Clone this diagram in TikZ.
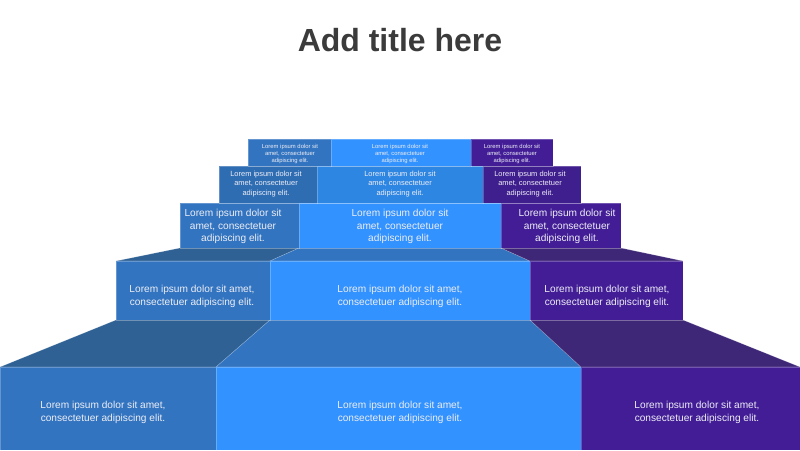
\documentclass[tikz,border=0pt]{standalone}
\usepackage{fontspec}
\setmainfont{Liberation Sans}
\usepackage{xcolor}
\definecolor{leftfront}{HTML}{3274C0}
\definecolor{midfront}{HTML}{3292FF}
\definecolor{rightfront}{HTML}{421D96}
\definecolor{lefttop}{HTML}{2F6194}
\definecolor{righttop}{HTML}{3E2777}
\definecolor{leftfour}{HTML}{2F6DB3}
\definecolor{midfour}{HTML}{2E86E3}
\definecolor{rightfour}{HTML}{3F1E8E}
\definecolor{titlegray}{HTML}{3B3B3B}
\definecolor{lighttext}{HTML}{EEEEF6}

\begin{document}
\begin{tikzpicture}[x=0.75pt, y=-0.75pt,
  face/.style={draw=white, draw opacity=0.25, line width=0.4pt},
  lbl/.style={text=lighttext, align=center, inner sep=0pt, font=\fontsize{7.6}{9.2}\selectfont},
  lblsmall/.style={lbl, font=\fontsize{5.6}{7}\selectfont},
  lbltiny/.style={lbl, font=\fontsize{4.4}{5.5}\selectfont}]
  \useasboundingbox (0,0) rectangle (800,450);
  \node[font=\fontsize{24}{28}\selectfont\bfseries, text=titlegray, anchor=base] (title) at (400,51.7) {Add title here};
  % bottom step
  \fill[lefttop, face] (0,367) -- (216,367) -- (270,320) -- (116,320) -- cycle;
  \fill[leftfront, face] (216,367) -- (581,367) -- (530,320) -- (270,320) -- cycle;
  \fill[righttop, face] (581,367) -- (800,367) -- (683,320) -- (530,320) -- cycle;
  \fill[leftfront, face] (0,367) rectangle (216,450);
  \fill[midfront, face] (216,367) rectangle (581,450);
  \fill[rightfront, face] (581,367) rectangle (800,450);
  % second step
  \fill[lefttop, face] (116,261) -- (270,261) -- (299,248) -- (180,248) -- cycle;
  \fill[leftfront, face] (270,261) -- (530,261) -- (501,248) -- (299,248) -- cycle;
  \fill[righttop, face] (530,261) -- (683,261) -- (621,248) -- (501,248) -- cycle;
  \fill[leftfront, face] (116,261) rectangle (270,320);
  \fill[midfront, face] (270,261) rectangle (530,320);
  \fill[rightfront, face] (530,261) rectangle (683,320);
  % upper steps
  \fill[leftfront, face] (180,203) rectangle (299,248);
  \fill[midfront, face] (299,203) rectangle (501,248);
  \fill[rightfront, face] (501,203) rectangle (621,248);
  \fill[leftfour, face] (219,166) rectangle (317,203);
  \fill[midfour, face] (317,166) rectangle (483,203);
  \fill[rightfour, face] (483,166) rectangle (581,203);
  \fill[leftfront, face] (248,139) rectangle (331,166);
  \fill[midfront, face] (331,139) rectangle (471,166);
  \fill[rightfront, face] (471,139) rectangle (553,166);
  % texts
  \node[lbl] (oneL) at (103,412.5) {Lorem ipsum dolor sit amet,\\consectetuer adipiscing elit.};
  \node[lbl] (oneM) at (400,412.5) {Lorem ipsum dolor sit amet,\\consectetuer adipiscing elit.};
  \node[lbl] (oneR) at (697,412.5) {Lorem ipsum dolor sit amet,\\consectetuer adipiscing elit.};
  \node[lbl] (twoL) at (192,296.5) {Lorem ipsum dolor sit amet,\\consectetuer adipiscing elit.};
  \node[lbl] (twoM) at (400,296.5) {Lorem ipsum dolor sit amet,\\consectetuer adipiscing elit.};
  \node[lbl] (twoR) at (607,296.5) {Lorem ipsum dolor sit amet,\\consectetuer adipiscing elit.};
  \node[lbl] (threeL) at (233,226.5) {Lorem ipsum dolor sit\\amet, consectetuer\\adipiscing elit.};
  \node[lbl] (threeM) at (400,226.5) {Lorem ipsum dolor sit\\amet, consectetuer\\adipiscing elit.};
  \node[lbl] (threeR) at (567,226.5) {Lorem ipsum dolor sit\\amet, consectetuer\\adipiscing elit.};
  \node[lblsmall] (fourL) at (266,184) {Lorem ipsum dolor sit\\amet, consectetuer\\adipiscing elit.};
  \node[lblsmall] (fourM) at (400,184) {Lorem ipsum dolor sit\\amet, consectetuer\\adipiscing elit.};
  \node[lblsmall] (fourR) at (530,184) {Lorem ipsum dolor sit\\amet, consectetuer\\adipiscing elit.};
  \node[lbltiny] (fiveL) at (290,154) {Lorem ipsum dolor sit\\amet, consectetuer\\adipiscing elit.};
  \node[lbltiny] (fiveM) at (400,154) {Lorem ipsum dolor sit\\amet, consectetuer\\adipiscing elit.};
  \node[lbltiny] (fiveR) at (512,154) {Lorem ipsum dolor sit\\amet, consectetuer\\adipiscing elit.};
\end{tikzpicture}
\end{document}
